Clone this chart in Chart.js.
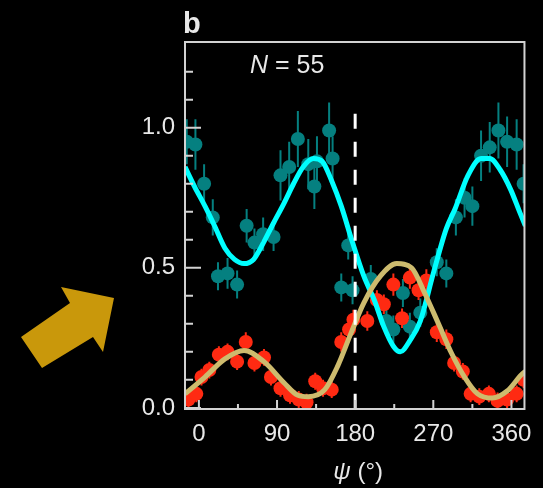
<!DOCTYPE html>
<html>
<head>
<meta charset="utf-8">
<script src="https://cdn.jsdelivr.net/npm/chart.js@4.4.1/dist/chart.umd.min.js"></script>
<style>
  html, body { margin: 0; padding: 0; background: #000; }
  #wrap { position: relative; width: 543px; height: 488px; }
  #arrow { position: absolute; left: 0; top: 0; pointer-events: none; }
</style>
</head>
<body>
<div id="wrap">
  <canvas id="c" width="543" height="488"></canvas>
  <svg id="arrow" width="543" height="488">
    <polygon points="61,287 70,303 21,337 42,368 93,337 103,352 114,298" fill="#c9980b"/>
  </svg>
</div>
<script>
"use strict";
// measured points, upper population (teal) with error bars
const tealPsi = [-14, -4, 6, 16, 22, 33, 44, 55, 64, 74, 86, 94, 104, 114, 126, 133, 136, 150, 154, 164, 172, 177,
                 198, 216, 224, 235, 243, 255, 274, 285, 296, 306, 315, 325, 335, 345, 355, 366, 374];
const tealVal = [0.95, 0.94, 0.80, 0.68, 0.47, 0.48, 0.44, 0.65, 0.59, 0.62, 0.61, 0.83, 0.86, 0.96, 0.87, 0.79, 0.88, 0.99, 0.89, 0.43, 0.58, 0.42,
                 0.46, 0.31, 0.28, 0.41, 0.29, 0.34, 0.52, 0.48, 0.68, 0.75, 0.72, 0.90, 0.93, 0.99, 0.95, 0.94, 0.80];
const tealErr = [0.08, 0.09, 0.07, 0.065, 0.05, 0.055, 0.05, 0.06, 0.05, 0.06, 0.05, 0.09, 0.09, 0.10, 0.09, 0.08, 0.09, 0.10, 0.08, 0.05, 0.05, 0.05,
                 0.05, 0.05, 0.05, 0.05, 0.05, 0.05, 0.05, 0.05, 0.065, 0.07, 0.07, 0.09, 0.09, 0.10, 0.09, 0.09, 0.07];

// measured points, lower population (red)
const redPsi = [-12, -3, 3, 12, 23, 33, 44, 54, 64, 75, 83, 94, 105, 115, 124, 134, 143, 153, 164, 173, 178,
                194, 205, 213, 224, 234, 243, 253, 262, 274, 285, 294, 304, 313, 323, 334, 344, 355, 366, 374];
const redVal = [0.03, 0.05, 0.11, 0.135, 0.19, 0.20, 0.165, 0.235, 0.16, 0.18, 0.11, 0.07, 0.045, 0.03, 0.02, 0.095, 0.07, 0.065, 0.235, 0.28, 0.315,
                0.31, 0.385, 0.37, 0.44, 0.32, 0.465, 0.42, 0.455, 0.27, 0.245, 0.16, 0.13, 0.05, 0.04, 0.05, 0.025, 0.03, 0.05, 0.10];
const redErr = [0.03, 0.03, 0.03, 0.03, 0.03, 0.03, 0.03, 0.035, 0.03, 0.03, 0.03, 0.03, 0.03, 0.03, 0.03, 0.03, 0.03, 0.03, 0.035, 0.035, 0.035,
                0.035, 0.035, 0.035, 0.04, 0.035, 0.04, 0.035, 0.04, 0.035, 0.035, 0.03, 0.03, 0.03, 0.03, 0.03, 0.03, 0.03, 0.03, 0.03];

// fitted curves
const cyanPsi = [-16, -5, 7, 18, 30, 41, 52, 63, 71, 86, 98, 109, 120, 132, 142, 153, 164, 177, 190, 202, 213, 224, 232, 243, 255, 270, 285, 295, 310, 325, 335, 347, 359, 370, 376];
const cyanVal = [0.86, 0.79, 0.72, 0.65, 0.57, 0.53, 0.515, 0.53, 0.57, 0.66, 0.73, 0.80, 0.86, 0.89, 0.88, 0.81, 0.72, 0.59, 0.47, 0.385, 0.29, 0.22, 0.20, 0.24, 0.31, 0.48, 0.64, 0.71, 0.83, 0.89, 0.89, 0.85, 0.78, 0.695, 0.65];
const goldPsi = [-16, 7, 30, 52, 75, 98, 114, 126, 145, 160, 175, 190, 209, 228, 245, 260, 276, 291, 306, 321, 338, 355, 372, 376];
const goldVal = [0.05, 0.11, 0.175, 0.205, 0.165, 0.09, 0.045, 0.04, 0.065, 0.15, 0.265, 0.375, 0.47, 0.515, 0.50, 0.41, 0.30, 0.195, 0.11, 0.05, 0.035, 0.06, 0.12, 0.13];

// dashed marker
const markerPsi = 180;
const markerTop = 1.05;

// axes
const xLabelTicks = [0, 90, 180, 270, 360];
const xMinorTicks = [45, 135, 225, 315];
const yLabelTicks = [0, 0.5, 1.0];
const yMinorTicks = [0.1, 0.2, 0.3, 0.4, 0.6, 0.7, 0.8, 0.9, 1.1, 1.2];

const TEAL = "#058080", RED = "#ff2a12", CYAN = "#00ffff", GOLD = "#cdbb6e", FRAME = "#d2d2d2", TXT = "#e8e8e8";
const FONT = "'Liberation Sans', Arial, sans-serif";

const pts = (xs, ys) => xs.map((x, i) => ({ x, y: ys[i] }));

const errorBars = {
  id: "errorBars",
  beforeDatasetsDraw(chart) {
    const { ctx, chartArea: a, scales: { x, y } } = chart;
    ctx.save();
    ctx.beginPath(); ctx.rect(a.left, a.top, a.right - a.left, a.bottom - a.top); ctx.clip();
    ctx.lineWidth = 2;
    [[tealPsi, tealVal, tealErr, TEAL], [redPsi, redVal, redErr, RED]].forEach(([px, pv, pe, col]) => {
      ctx.strokeStyle = col;
      px.forEach((p, i) => {
        const cx = x.getPixelForValue(p);
        ctx.beginPath();
        ctx.moveTo(cx, y.getPixelForValue(pv[i] - pe[i]));
        ctx.lineTo(cx, y.getPixelForValue(pv[i] + pe[i]));
        ctx.stroke();
      });
    });
    ctx.restore();
  },
};

const frame = {
  id: "frame",
  afterDraw(chart) {
    const { ctx, chartArea: a, scales: { x, y } } = chart;
    ctx.save();
    ctx.strokeStyle = FRAME; ctx.lineWidth = 2;
    ctx.strokeRect(a.left, a.top, a.right - a.left, a.bottom - a.top);
    ctx.beginPath();
    yLabelTicks.forEach((v) => { const py = y.getPixelForValue(v); ctx.moveTo(a.left, py); ctx.lineTo(a.left + 16, py); });
    yMinorTicks.forEach((v) => { const py = y.getPixelForValue(v); ctx.moveTo(a.left, py); ctx.lineTo(a.left + 8, py); });
    xLabelTicks.forEach((v) => { const px = x.getPixelForValue(v); ctx.moveTo(px, a.bottom); ctx.lineTo(px, a.bottom - 9); });
    xMinorTicks.forEach((v) => { const px = x.getPixelForValue(v); ctx.moveTo(px, a.bottom); ctx.lineTo(px, a.bottom - 5); });
    ctx.stroke();

    // panel letter, N label and axis title
    ctx.fillStyle = TXT;
    ctx.textBaseline = "alphabetic";
    ctx.font = "bold 29px " + FONT;
    ctx.fillText("b", 183, 33);
    ctx.font = "italic 25px " + FONT;
    ctx.fillText("N", 250, 73);
    const nw = ctx.measureText("N").width;
    ctx.font = "25px " + FONT;
    ctx.fillText(" = 55", 250 + nw, 73);

    ctx.font = "italic 24px " + FONT;
    const pw = ctx.measureText("ψ").width;
    ctx.font = "24px " + FONT;
    const rw = ctx.measureText(" (°)").width;
    const sx = x.getPixelForValue(180) + 3 - (pw + rw) / 2;
    ctx.font = "italic 24px " + FONT;
    ctx.fillText("ψ", sx, 479);
    ctx.font = "24px " + FONT;
    ctx.fillText(" (°)", sx + pw, 479);
    ctx.restore();
  },
};

new Chart(document.getElementById("c"), {
  type: "line",
  data: {
    datasets: [
      { data: [{ x: markerPsi, y: markerTop }, { x: markerPsi, y: 0 }], borderColor: "#ffffff", borderWidth: 3,
        borderDash: [15, 13], pointRadius: 0, order: 0 },
      { data: pts(goldPsi, goldVal), borderColor: GOLD, borderWidth: 5, pointRadius: 0,
        cubicInterpolationMode: "monotone", order: 1 },
      { data: pts(cyanPsi, cyanVal), borderColor: CYAN, borderWidth: 5, pointRadius: 0,
        cubicInterpolationMode: "monotone", order: 2 },
      { data: pts(redPsi, redVal), showLine: false, pointRadius: 7, pointBackgroundColor: RED, pointBorderWidth: 0, order: 3 },
      { data: pts(tealPsi, tealVal), showLine: false, pointRadius: 7, pointBackgroundColor: TEAL, pointBorderWidth: 0, order: 4 },
    ],
  },
  options: {
    responsive: false, animation: false, devicePixelRatio: 1,
    layout: { padding: { top: 42, right: 14, left: 0, bottom: 0 } },
    plugins: { legend: { display: false }, tooltip: { enabled: false } },
    scales: {
      x: {
        type: "linear", min: -16, max: 375,
        grid: { display: false, drawTicks: false }, border: { display: false },
        afterBuildTicks: (s) => { s.ticks = xLabelTicks.map((value) => ({ value })); },
        afterFit: (s) => { s.height = 79; },
        ticks: { color: TXT, font: { family: FONT, size: 24 }, padding: 11, maxRotation: 0, callback: (v) => String(v) },
      },
      y: {
        min: -0.004, max: 1.306,
        grid: { display: false, drawTicks: false }, border: { display: false },
        afterBuildTicks: (s) => { s.ticks = yLabelTicks.map((value) => ({ value })); },
        afterFit: (s) => { s.width = 185; },
        ticks: { color: TXT, font: { family: FONT, size: 24 }, padding: 10, callback: (v) => v.toFixed(1) },
      },
    },
  },
  plugins: [errorBars, frame],
});
</script>
</body>
</html>
